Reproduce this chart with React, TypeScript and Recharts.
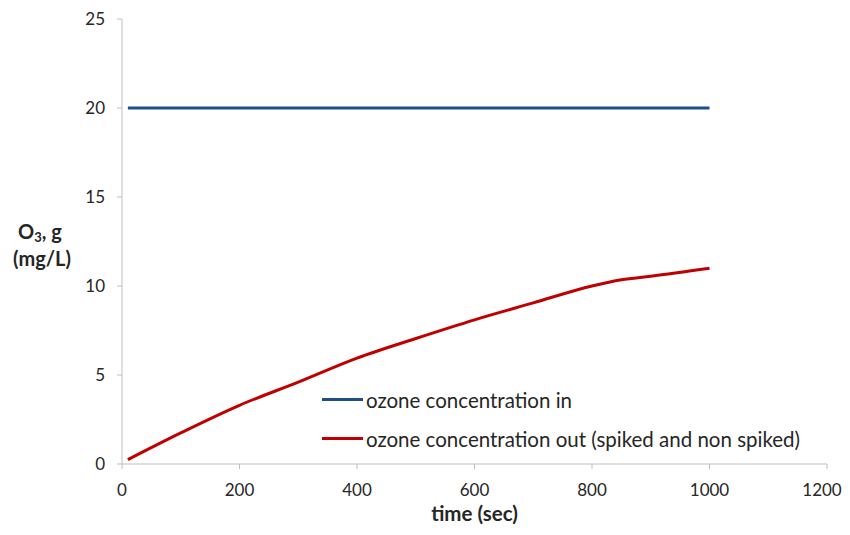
import React from "react";
import { LineChart, Line, XAxis, YAxis, Legend, Label } from "recharts";

// time (sec)
const times = [10, 100, 200, 300, 400, 500, 600, 700, 800, 850, 900, 1000];
// ozone in (mg/L), constant feed
const ozoneIn = [20, 20, 20, 20, 20, 20, 20, 20, 20, 20, 20, 20];
// ozone out (spiked and non spiked)
const ozoneOut = [0.25, 1.75, 3.3, 4.6, 5.95, 7.05, 8.1, 9.05, 10.0, 10.35, 10.55, 11.0];

const xTicks = [0, 200, 400, 600, 800, 1000, 1200];
const yTicks = [0, 5, 10, 15, 20, 25];

const data = times.map((t, i) => ({ t, inVal: ozoneIn[i], outVal: ozoneOut[i] }));

const FONT = "Lato, 'Open Sans', sans-serif";
const AXIS = "#bfbfbf";
const BLUE = "#1f4e8a";
const RED = "#c00000";
const TXT = "#262626";

const legendItems = [
  { name: "ozone concentration in", color: BLUE },
  { name: "ozone concentration out (spiked and non spiked)", color: RED },
];

function LegendBox() {
  return (
    <div style={{ fontFamily: FONT, fontSize: 20.5, color: TXT }}>
      {legendItems.map((it) => (
        <div key={it.name} style={{ display: "flex", alignItems: "center", height: 39 }}>
          <span style={{ display: "inline-block", width: 41, height: 3, background: it.color, marginRight: 3 }} />
          <span>{it.name}</span>
        </div>
      ))}
    </div>
  );
}

// eslint-disable-next-line @typescript-eslint/no-explicit-any
function XTick(props: any) {
  const { x, y, payload } = props;
  // the last label is nudged left so it stays inside the frame, as in the original
  const shift = payload.value === xTicks[xTicks.length - 1] ? -5 : 0;
  return (
    <text x={x + shift} y={y} dy="0.71em" textAnchor="middle" fontFamily={FONT} fontSize={17} fill={TXT}>
      {payload.value}
    </text>
  );
}

// eslint-disable-next-line @typescript-eslint/no-explicit-any
function YLabel(props: any) {
  const { viewBox } = props;
  const cx = viewBox.x + 42;
  return (
    <text x={cx} y={239} textAnchor="middle" fontFamily={FONT} fontSize={20} fontWeight={700} fill={TXT}>
      <tspan x={cx - 2}>O<tspan fontSize={13} dy={3}>3</tspan><tspan dy={-3}>, g</tspan></tspan>
      <tspan x={cx} dy={27}>(mg/L)</tspan>
    </text>
  );
}

export default function App() {
  // cancel the body margin so chart coordinates equal page coordinates
  return (
    <div style={{ margin: -8, width: 850, height: 535 }}>
      <LineChart width={850} height={535} data={data} margin={{ top: 19, right: 23, bottom: 41, left: 0 }}>
        <XAxis
          dataKey="t"
          type="number"
          domain={[0, 1200]}
          ticks={xTicks}
          stroke={AXIS}
          tickSize={5}
          tickMargin={15}
          height={30}
          tick={<XTick />}
        >
          <Label
            value="time (sec)"
            position="bottom"
            offset={12}
            style={{ fontFamily: FONT, fontSize: 20.5, fontWeight: 700, fill: TXT }}
          />
        </XAxis>
        <YAxis
          type="number"
          domain={[0, 25]}
          ticks={yTicks}
          width={122}
          stroke={AXIS}
          tickSize={5}
          tickMargin={12}
          tick={{ fill: TXT, fontSize: 17, fontFamily: FONT }}
        >
          <Label content={<YLabel />} />
        </YAxis>
        <Legend
          content={<LegendBox />}
          layout="vertical"
          align="center"
          verticalAlign="middle"
          wrapperStyle={{ position: "absolute", left: 322, top: 380, width: 520 }}
        />
        <Line
          dataKey="inVal"
          name="ozone concentration in"
          stroke={BLUE}
          strokeWidth={3}
          dot={false}
          isAnimationActive={false}
        />
        <Line
          type="monotone"
          dataKey="outVal"
          name="ozone concentration out (spiked and non spiked)"
          stroke={RED}
          strokeWidth={3}
          dot={false}
          isAnimationActive={false}
        />
      </LineChart>
    </div>
  );
}
